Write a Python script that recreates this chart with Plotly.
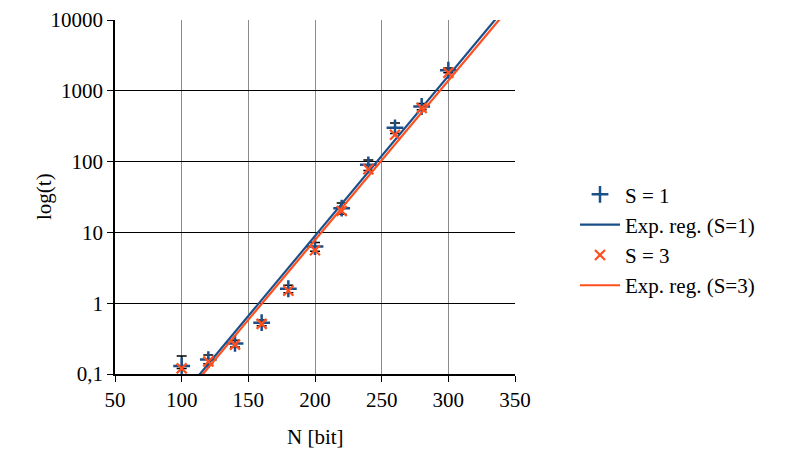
import plotly.graph_objects as go

N = [100, 120, 140, 160, 180, 200, 220, 240, 260, 280, 300]
t_s1 = [0.13, 0.16, 0.27, 0.53, 1.6, 6.3, 22, 90, 300, 600, 1950]
t_s3 = [0.12, 0.15, 0.26, 0.51, 1.5, 5.6, 20, 78, 240, 570, 1800]
err_plus = [0.05, 0.025, 0.03, 0.05, 0.2, 0.9, 4, 15, 50, 60, 150]
err_minus = [0.01, 0.02, 0.03, 0.05, 0.2, 0.9, 4, 15, 50, 60, 150]

# exponential regression parameters: t = 10**(a + b*N)
reg1 = (-3.570, 0.0226)
reg3 = (-3.612, 0.02252)
x_reg = [50, 350]

x_ticks = [50, 100, 150, 200, 250, 300, 350]
y_ticks = [0.1, 1, 10, 100, 1000, 10000]
y_labels = ["0,1", "1", "10", "100", "1000", "10000"]

blue = "#1b4f8a"
orange = "#ff4f1f"
font = "Liberation Serif"
fs = 21

fig = go.Figure()
fig.add_trace(go.Scatter(
    x=N, y=t_s1, mode="markers", name="S = 1",
    marker=dict(symbol="cross-thin", size=12, line=dict(width=2.5, color=blue), color=blue),
    error_y=dict(type="data", array=err_plus, arrayminus=err_minus, color="black", thickness=1.5, width=5),
))
fig.add_trace(go.Scatter(
    x=x_reg, y=[10 ** (reg1[0] + reg1[1] * x) for x in x_reg], mode="lines",
    name="Exp. reg. (S=1)", line=dict(color=blue, width=2.2),
))
fig.add_trace(go.Scatter(
    x=N, y=t_s3, mode="markers", name="S = 3",
    marker=dict(symbol="x-thin", size=10, line=dict(width=2.2, color=orange), color=orange),
))
fig.add_trace(go.Scatter(
    x=x_reg, y=[10 ** (reg3[0] + reg3[1] * x) for x in x_reg], mode="lines",
    name="Exp. reg. (S=3)", line=dict(color=orange, width=2.2),
))

fig.update_layout(
    width=800, height=453,
    margin=dict(l=107, r=293, t=12, b=87, autoexpand=False),
    paper_bgcolor="white", plot_bgcolor="white",
    font=dict(family=font, size=fs, color="black"),
    legend=dict(x=1.15, y=0.378, xanchor="left", yanchor="middle", font=dict(family=font, size=fs, color="black"),
                tracegroupgap=0, itemwidth=40, bgcolor="rgba(0,0,0,0)"),
    showlegend=True,
    annotations=[
        dict(text="log(t)", xref="paper", yref="paper", x=-0.1775, y=0.5, xanchor="center", yanchor="middle",
             textangle=-90, showarrow=False, font=dict(family=font, size=fs)),
        dict(text="N [bit]", xref="paper", yref="paper", x=0.5, y=-0.178, xanchor="center", yanchor="middle",
             showarrow=False, font=dict(family=font, size=fs)),
    ],
)
fig.update_xaxes(
    range=[50, 350], tickvals=x_ticks, showgrid=True, gridcolor="#8c8c8c", gridwidth=1.2,
    showline=True, linecolor="black", linewidth=1.5, ticks="outside", ticklen=6,
    tickcolor="black", zeroline=False, tickfont=dict(family=font, size=fs), automargin=False,
)
fig.update_yaxes(
    type="log", range=[-1, 4], tickvals=y_ticks, ticktext=y_labels,
    showgrid=True, gridcolor="black", gridwidth=1,
    showline=True, linecolor="black", linewidth=1.5, ticks="outside", ticklen=6,
    tickcolor="black", zeroline=False, tickfont=dict(family=font, size=fs), automargin=False,
)

fig.write_html("out.html")
